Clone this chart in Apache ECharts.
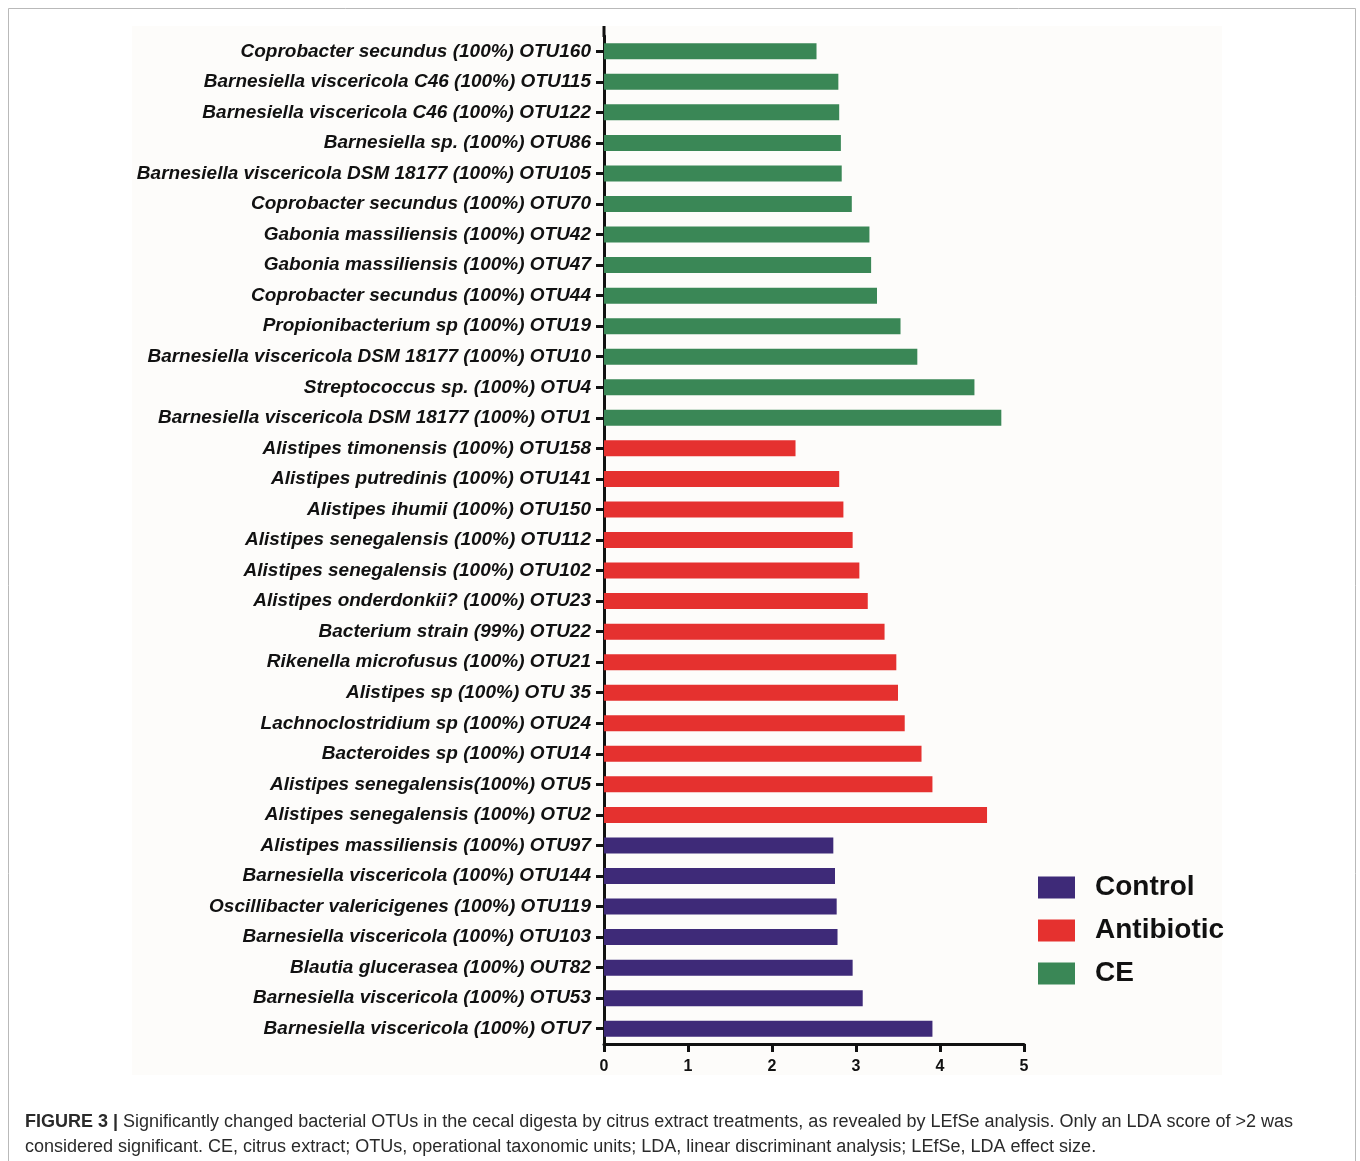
<!DOCTYPE html>
<html>
<head>
<meta charset="utf-8">
<script src="https://cdn.jsdelivr.net/npm/echarts@6/dist/echarts.min.js"></script>
<style>
  html, body { margin: 0; padding: 0; background: #ffffff; }
  #chart { width: 1360px; height: 1161px; }
</style>
</head>
<body>
<div id="chart"></div>
<script>
// LDA scores (log10) per group, listed top to bottom as drawn
const ceLabels = [
  'Coprobacter secundus (100%) OTU160',
  'Barnesiella viscericola C46 (100%) OTU115',
  'Barnesiella viscericola C46 (100%) OTU122',
  'Barnesiella sp. (100%) OTU86',
  'Barnesiella viscericola DSM 18177 (100%) OTU105',
  'Coprobacter secundus (100%) OTU70',
  'Gabonia massiliensis (100%) OTU42',
  'Gabonia massiliensis (100%) OTU47',
  'Coprobacter secundus (100%) OTU44',
  'Propionibacterium sp (100%) OTU19',
  'Barnesiella viscericola DSM 18177 (100%) OTU10',
  'Streptococcus sp. (100%) OTU4',
  'Barnesiella viscericola DSM 18177 (100%) OTU1'
];
const ceValues = [2.53, 2.79, 2.80, 2.82, 2.83, 2.95, 3.16, 3.18, 3.25, 3.53, 3.73, 4.41, 4.73];

const antibioticLabels = [
  'Alistipes timonensis (100%) OTU158',
  'Alistipes putredinis (100%) OTU141',
  'Alistipes ihumii (100%) OTU150',
  'Alistipes senegalensis (100%) OTU112',
  'Alistipes senegalensis (100%) OTU102',
  'Alistipes onderdonkii? (100%) OTU23',
  'Bacterium strain (99%) OTU22',
  'Rikenella microfusus (100%) OTU21',
  'Alistipes sp (100%) OTU 35',
  'Lachnoclostridium sp (100%) OTU24',
  'Bacteroides sp (100%) OTU14',
  'Alistipes senegalensis(100%) OTU5',
  'Alistipes senegalensis (100%) OTU2'
];
const antibioticValues = [2.28, 2.80, 2.85, 2.96, 3.04, 3.14, 3.34, 3.48, 3.50, 3.58, 3.78, 3.91, 4.56];

const controlLabels = [
  'Alistipes massiliensis (100%) OTU97',
  'Barnesiella viscericola (100%) OTU144',
  'Oscillibacter valericigenes (100%) OTU119',
  'Barnesiella viscericola (100%) OTU103',
  'Blautia glucerasea (100%) OUT82',
  'Barnesiella viscericola (100%) OTU53',
  'Barnesiella viscericola (100%) OTU7'
];
const controlValues = [2.73, 2.75, 2.77, 2.78, 2.96, 3.08, 3.91];

const xTicks = [0, 1, 2, 3, 4, 5];

const groupNames = ['Control', 'Antibiotic', 'CE'];
const groupColors = { Control: '#3e2a78', Antibiotic: '#e5312f', CE: '#3a8756' };

// Build the shared category list and one padded data column per group
const groups = [
  { name: 'CE', labels: ceLabels, values: ceValues },
  { name: 'Antibiotic', labels: antibioticLabels, values: antibioticValues },
  { name: 'Control', labels: controlLabels, values: controlValues }
];
const categories = [];
groups.forEach(g => g.labels.forEach(l => categories.push(l)));
const seriesData = {};
groups.forEach(g => {
  seriesData[g.name] = categories.map(c => {
    const i = g.labels.indexOf(c);
    return i >= 0 ? g.values[i] : '-';
  });
});

const chart = echarts.init(document.getElementById('chart'), null, { renderer: 'canvas' });

const FONT = '"Liberation Sans", Arial, Helvetica, sans-serif';

chart.setOption({
  backgroundColor: '#ffffff',
  animation: false,
  textStyle: { fontFamily: FONT },
  grid: { left: 604, right: 336, top: 36, bottom: 117, containLabel: false },
  legend: {
    data: groupNames,
    orient: 'vertical',
    left: 1038,
    top: 873,
    padding: 0,
    itemWidth: 37,
    itemHeight: 22,
    itemGap: 14,
    icon: 'rect',
    selectedMode: false,
    textStyle: {
      fontFamily: FONT,
      fontWeight: 'bold',
      fontSize: 28,
      lineHeight: 29,
      color: '#111111',
      padding: [0, 0, 0, 15]
    }
  },
  xAxis: {
    type: 'value',
    min: 0,
    max: 5,
    interval: 1,
    splitLine: { show: false },
    axisLine: { show: true, lineStyle: { color: '#111111', width: 3 } },
    axisTick: { show: true, length: 8, lineStyle: { color: '#111111', width: 3 } },
    axisLabel: {
      margin: 15,
      fontFamily: FONT,
      fontWeight: 'bold',
      fontSize: 16,
      color: '#111111',
      formatter: v => xTicks.indexOf(v) >= 0 ? String(v) : ''
    }
  },
  yAxis: {
    type: 'category',
    data: categories,
    inverse: true,
    axisLine: { show: true, lineStyle: { color: '#111111', width: 3 } },
    axisTick: { show: true, alignWithLabel: true, length: 8, lineStyle: { color: '#111111', width: 3 } },
    axisLabel: {
      margin: 13,
      interval: 0,
      fontFamily: FONT,
      fontWeight: 'bold',
      fontStyle: 'italic',
      fontSize: 19,
      color: '#111111'
    }
  },
  series: groupNames.map(name => ({
    name: name,
    type: 'bar',
    stack: 'lda',
    barWidth: 16,
    data: seriesData[name],
    itemStyle: { color: groupColors[name] },
    z: 2
  })),
  graphic: [
    {
      type: 'rect',
      z: -10,
      silent: true,
      shape: { x: 8.5, y: 8.5, width: 1347, height: 1200 },
      style: { fill: '#ffffff', stroke: '#b9b9b9', lineWidth: 1 }
    },
    {
      type: 'rect',
      z: -9,
      silent: true,
      shape: { x: 132, y: 26, width: 1090, height: 1049 },
      style: { fill: '#fdfcfa' }
    },
    {
      // upper stub of the y axis line above the first row
      type: 'line',
      z: 10,
      silent: true,
      shape: { x1: 604, y1: 26, x2: 604, y2: 37 },
      style: { stroke: '#111111', lineWidth: 3 }
    },
    {
      type: 'text',
      left: 25,
      top: 1110,
      silent: true,
      style: {
        text: '{b|FIGURE 3 |} Significantly changed bacterial OTUs in the cecal digesta by citrus extract treatments, as revealed by LEfSe analysis. Only an LDA score of >2 was\nconsidered significant. CE, citrus extract; OTUs, operational taxonomic units; LDA, linear discriminant analysis; LEfSe, LDA effect size.',
        fontFamily: FONT,
        fontSize: 18,
        lineHeight: 25,
        fill: '#2a2a2a',
        rich: {
          b: { fontFamily: FONT, fontSize: 18, fontWeight: 'bold', fill: '#2a2a2a', lineHeight: 25 }
        }
      }
    }
  ]
});
</script>
</body>
</html>
